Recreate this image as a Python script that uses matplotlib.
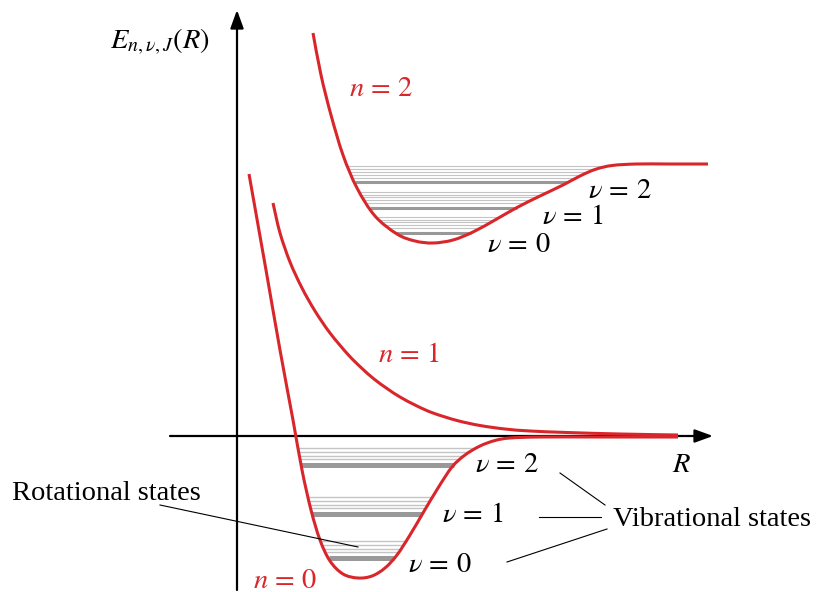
#%% IMPORTS               ~~~~~~~~~~~~~~~~~~~~~~~~~~~~~~~~~~~~~~~~~~~~
import matplotlib
matplotlib.use('Agg')
import matplotlib.pyplot as plt
from matplotlib.path import Path
from matplotlib.patches import PathPatch
import numpy as np

#%% DATA               ~~~~~~~~~~~~~~~~~~~~~~~~~~~~~~~~~~~~~~~~~~~~
# Potential energy curves, sampled (R, E) in arbitrary units
n0_R = [12, 29, 43, 56, 65, 74, 83, 93, 106, 121, 135, 148, 160, 173, 186,
        201, 215, 228, 243, 258, 273, 303, 363, 441]
n0_E = [262, 166, 86, 16, -34, -74, -104, -125, -138, -142, -140, -132, -119,
        -99, -77, -52, -31, -19, -10, -4.5, -2, -1, -1, -1]

n1_R = [36, 43, 53, 65, 78, 93, 111, 124, 137, 150, 163, 180, 196, 220, 243,
        268, 293, 330, 383, 441]
n1_E = [233, 203, 174, 148, 125, 103, 81.5, 68.5, 57, 47.5, 39, 30, 23, 15.5,
        10.5, 7, 5, 3.5, 2, 1]

n2_R = [76, 84, 94, 106, 120, 138, 160, 178, 196, 216, 236, 258, 280, 303,
        326, 343, 358, 375, 400, 433, 471]
n2_E = [403, 361, 321, 281, 248, 220, 202, 195, 193, 196, 204, 216, 228.5,
        240, 251, 260, 266.5, 270.5, 272, 272, 272]

# Vibrational levels (thick) and rotational sub-levels above each one
n0_vib = [-122, -78, -29]
n0_rot = [5.8, 9.5, 13, 17]
n2_vib = [203.3, 228.3, 253.7]
n2_rot = [4.5, 7.5, 10.3, 13, 16.2]

vib_labels = [r'$\nu\,=\,0$', r'$\nu\,=\,1$', r'$\nu\,=\,2$']

#%% STYLE               ~~~~~~~~~~~~~~~~~~~~~~~~~~~~~~~~~~~~~~~~~~~~
plt.rcParams['font.family'] = ['Liberation Serif', 'DejaVu Serif']
plt.rcParams['mathtext.fontset'] = 'stix'

red = '#d9262b'
thick_gray = '#999999'
thin_gray = '#c4c4c4'
fs = 20.5

#%% FUNCTIONS               ~~~~~~~~~~~~~~~~~~~~~~~~~~~~~~~~~~~~~~~~~~~~
def smooth_path(R, E):
    # Catmull-Rom through the samples, written as cubic Bezier segments
    P = np.column_stack([R, E]).astype(float)
    P = np.vstack([P[0], P, P[-1]])
    verts = [P[1]]
    codes = [Path.MOVETO]
    for i in range(1, len(P) - 2):
        c1 = P[i] + (P[i + 1] - P[i - 1]) / 6
        c2 = P[i + 1] - (P[i + 2] - P[i]) / 6
        verts += [c1, c2, P[i + 1]]
        codes += [Path.CURVE4] * 3
    #
    return Path(verts, codes)
#

def well_edges(R, E, level):
    # Left and right wall of a well at a given energy
    R = np.asarray(R, float)
    E = np.asarray(E, float)
    i = int(np.argmin(E))
    left = np.interp(level, E[:i + 1][::-1], R[:i + 1][::-1])
    right = np.interp(level, E[i:], R[i:])
    return left, right
#

def draw_levels(ax, R, E, vib, rot, lw_thick, lw_thin):
    for v in vib:
        for d in rot:
            a, b = well_edges(R, E, v + d)
            ax.plot([a, b], [v + d, v + d], color=thin_gray, lw=lw_thin,
                    solid_capstyle='butt', zorder=1)
        a, b = well_edges(R, E, v)
        ax.plot([a, b], [v, v], color=thick_gray, lw=lw_thick,
                solid_capstyle='butt', zorder=1)
    #
#

#%% FIGURE               ~~~~~~~~~~~~~~~~~~~~~~~~~~~~~~~~~~~~~~~~~~~~
fig = plt.figure(figsize=(8.16, 5.92), dpi=100)
ax = fig.add_axes([0, 0, 1, 1])
ax.set_xlim(-237, 579)
ax.set_ylim(-156, 436)
ax.axis('off')

# Axes with arrow heads
arrow = dict(arrowstyle='-|>,head_length=1.1,head_width=0.4', lw=1.6,
             color='black', shrinkA=0, shrinkB=0, mutation_scale=10)
ax.annotate('', xy=(0, 426), xytext=(0, -154), arrowprops=arrow)
ax.annotate('', xy=(476, 0), xytext=(-67, 0), arrowprops=arrow)

# Level lines inside the wells
draw_levels(ax, n0_R, n0_E, n0_vib, n0_rot, 3.6, 1.0)
draw_levels(ax, n2_R, n2_E, n2_vib, n2_rot, 2.2, 0.8)

# Potential curves
for R, E in [(n0_R, n0_E), (n1_R, n1_E), (n2_R, n2_E)]:
    ax.add_patch(PathPatch(smooth_path(R, E), fill=False, edgecolor=red,
                           lw=2.2, capstyle='butt', zorder=3))
#

# Labels
ax.text(-127, 394, r'$E_{n,\nu,J}(R)$', fontsize=fs, va='center')
ax.text(435, -29, r'$R$', fontsize=fs, va='center')
ax.text(112, 347, r'$n\,=\,2$', fontsize=fs, va='center', color=red)
ax.text(141, 80, r'$n\,=\,1$', fontsize=fs, va='center', color=red)
ax.text(16, -145, r'$n\,=\,0$', fontsize=fs, va='center', color=red)

for (x, y), s in zip([(250, 190), (305, 218), (351, 245)], vib_labels):
    ax.text(x, y, s, fontsize=fs, va='center')
for (x, y), s in zip([(171, -130), (205, -80), (238, -30)], vib_labels):
    ax.text(x, y, s, fontsize=fs, va='center')
#

ax.text(-225, -57, 'Rotational states', fontsize=fs, va='center')
ax.text(376, -83, 'Vibrational states', fontsize=fs, va='center')

# Pointer lines
ax.plot([-77, 121], [-69, -111], color='black', lw=0.8, zorder=4)
ax.plot([323, 368], [-37, -69], color='black', lw=0.8)
ax.plot([302, 364], [-81, -81], color='black', lw=0.8)
ax.plot([370, 270], [-93, -126], color='black', lw=0.8)

fig.savefig('out.png', dpi=100)
